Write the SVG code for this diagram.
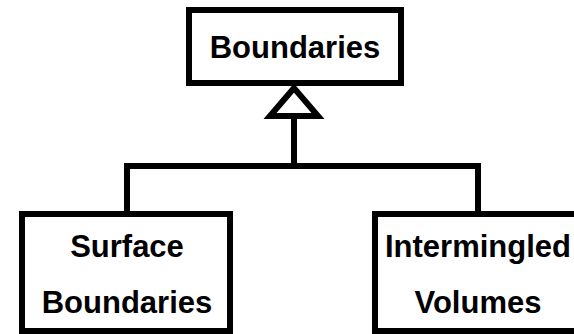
<svg xmlns="http://www.w3.org/2000/svg" width="574" height="334" viewBox="0 0 574 334">
  <style>
    .box { fill: #ffffff; stroke: #000000; stroke-width: 6; }
    .label { font-family: "Liberation Sans", Arial, sans-serif; font-weight: bold; font-size: 31px; fill: #000000; text-anchor: middle; }
    .wire { fill: none; stroke: #000000; stroke-width: 6; }
    .head { fill: #ffffff; stroke: #000000; stroke-width: 6; stroke-linejoin: miter; }
  </style>
  <rect width="574" height="334" fill="#ffffff"/>

  <!-- generalization connectors -->
  <g id="connectors">
    <path class="wire" d="M127 214 V166 H478 V214"/>
    <path class="wire" d="M294 166 V116"/>
    <polygon class="head" points="294,88 270,116 318,116"/>
  </g>

  <g id="boundaries">
    <rect class="box" x="189" y="10" width="212" height="73"/>
    <text class="label" x="295" y="58">Boundaries</text>
  </g>

  <g id="surface-boundaries">
    <rect class="box" x="22" y="214" width="208" height="117"/>
    <text class="label" x="127" y="257">Surface</text>
    <text class="label" x="127" y="313">Boundaries</text>
  </g>

  <g id="intermingled-volumes">
    <rect class="box" x="375" y="214" width="208" height="117"/>
    <text class="label" x="478" y="257">Intermingled</text>
    <text class="label" x="478" y="313">Volumes</text>
  </g>
</svg>
